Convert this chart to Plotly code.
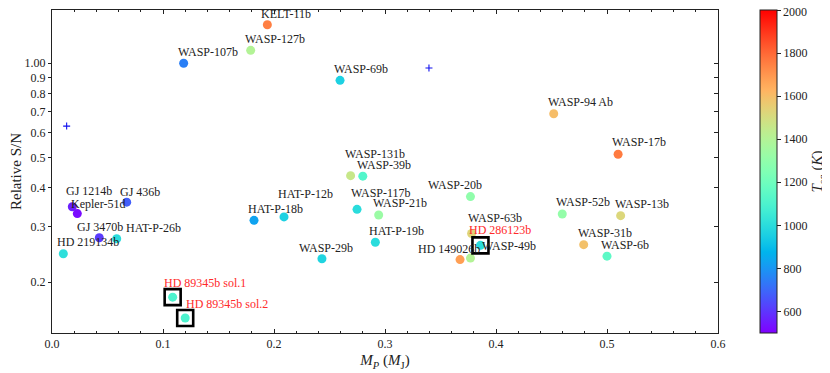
import numpy as np
import plotly.graph_objects as go

# ---------------- data ----------------
names = ["KELT-11b", "WASP-127b", "WASP-107b", "WASP-69b", "WASP-94 Ab", "WASP-17b",
         "WASP-131b", "WASP-39b", "WASP-20b", "WASP-117b", "WASP-21b", "HAT-P-18b",
         "HAT-P-12b", "HAT-P-19b", "WASP-29b", "HD 149026b", "WASP-63b", "WASP-49b",
         "HD 286123b", "HD 89345b sol.1", "HD 89345b sol.2", "GJ 1214b", "Kepler-51d",
         "GJ 436b", "GJ 3470b", "HAT-P-26b", "HD 219134b", "WASP-52b", "WASP-13b",
         "WASP-31b", "WASP-6b"]
mass = [0.194, 0.179, 0.1186, 0.2595, 0.452, 0.510,
        0.269, 0.280, 0.377, 0.2748, 0.2943, 0.182,
        0.209, 0.2913, 0.2432, 0.3676, 0.378, 0.377,
        0.386, 0.1087, 0.120, 0.0183, 0.0228,
        0.0673, 0.0426, 0.0583, 0.0102, 0.4597, 0.5123,
        0.479, 0.500]
snr = [1.328, 1.10, 1.00, 0.882, 0.690, 0.512,
       0.4375, 0.436, 0.375, 0.3415, 0.3275, 0.315,
       0.323, 0.268, 0.2375, 0.236, 0.286, 0.2386,
       0.262, 0.179, 0.1536, 0.348, 0.331,
       0.360, 0.277, 0.275, 0.2464, 0.330, 0.326,
       0.2633, 0.242]
teq = [1750, 1400, 750, 960, 1600, 1760,
       1460, 1120, 1300, 1000, 1330, 830,
       960, 1000, 970, 1680, 1530, 1400,
       1000, 1100, 1100, 560, 520,
       680, 610, 1000, 1010, 1310, 1520,
       1590, 1150]
highlighted = ["HD 286123b", "HD 89345b sol.1", "HD 89345b sol.2"]

plus_mass = [0.0132, 0.3396]
plus_snr = [0.63, 0.966]

xtick_vals = [0.0, 0.1, 0.2, 0.3, 0.4, 0.5, 0.6]
xtick_text = ["0.0", "0.1", "0.2", "0.3", "0.4", "0.5", "0.6"]
ytick_vals = [0.2, 0.3, 0.4, 0.5, 0.6, 0.7, 0.8, 0.9, 1.0]
ytick_text = ["0.2", "0.3", "0.4", "0.5", "0.6", "0.7", "0.8", "0.9", "1.00"]
teq_min, teq_max = 500, 2000
cbar_ticks = [600, 800, 1000, 1200, 1400, 1600, 1800, 2000]

# label offsets in pixels (style only)
label_shift = {
    "KELT-11b": (-7, 11), "WASP-127b": (-7, 11), "WASP-107b": (-7, 11),
    "WASP-69b": (-7, 11), "WASP-94 Ab": (-7, 12), "WASP-17b": (-7, 12),
    "WASP-131b": (-7, 22), "WASP-39b": (-7, 11), "WASP-20b": (-43, 12),
    "WASP-117b": (-7, 16), "WASP-21b": (-7, 12), "HAT-P-18b": (-7, 11),
    "HAT-P-12b": (-7, 23), "HAT-P-19b": (-7, 11), "WASP-29b": (-24, 11),
    "HD 149026b": (-43, 11), "WASP-63b": (-5, 15), "WASP-49b": (11, 12),
    "HD 286123b": (-12, 15), "HD 89345b sol.1": (-10, 14), "HD 89345b sol.2": (0, 14),
    "GJ 1214b": (-7, 16), "Kepler-51d": (-7, 10), "GJ 436b": (-8, 10),
    "GJ 3470b": (-23, 11), "HAT-P-26b": (8, 11), "HD 219134b": (-7, 12),
    "WASP-52b": (-7, 12), "WASP-13b": (-7, 12), "WASP-31b": (-7, 12), "WASP-6b": (-7, 11),
}

# matplotlib 'rainbow' colormap
def rainbow(t):
    r = min(1.0, abs(2 * t - 0.5))
    g = max(0.0, np.sin(np.pi * t))
    b = max(0.0, np.cos(np.pi * t / 2))
    return "rgb(%d,%d,%d)" % (round(r * 255), round(g * 255), round(b * 255))

colorscale = [[t, rainbow(t)] for t in np.linspace(0, 1, 41)]

FONT = "Liberation Serif"

# the page body adds an 8 px offset; figure is sized to fit the window
OFF = 8
L, T, R, B = 52 - OFF, 10 - OFF, 112, 40
W, H = 830 - OFF, 373 - OFF
plot_w = W - L - R
plot_h = H - T - B

fig = go.Figure()

fig.add_trace(go.Scatter(
    x=mass, y=snr, mode="markers", showlegend=False,
    marker=dict(size=9, color=teq, colorscale=colorscale, cmin=teq_min, cmax=teq_max,
                line=dict(width=0),
                colorbar=dict(
                    x=(760 - 52) / plot_w, xanchor="left", xpad=0,
                    y=0.5, yanchor="middle", ypad=0, len=1, lenmode="fraction",
                    thickness=17, outlinewidth=1, outlinecolor="#222",
                    tickmode="array", tickvals=cbar_ticks,
                    ticks="outside", ticklen=4, tickcolor="#222",
                    tickfont=dict(family=FONT, size=12, color="#222"),
                    title=dict(text="<i>T</i><sub>eq</sub> (<i>K</i>)", side="right",
                               font=dict(family=FONT, size=15, color="#222")),
                )),
    xaxis="x", yaxis="y",
))

hx = [m for m, n in zip(mass, names) if n in highlighted]
hy = [s for s, n in zip(snr, names) if n in highlighted]
fig.add_trace(go.Scatter(
    x=hx, y=hy, mode="markers", showlegend=False,
    marker=dict(symbol="square-open", size=16, color="black", line=dict(width=2.6, color="black")),
))

fig.add_trace(go.Scatter(
    x=plus_mass, y=plus_snr, mode="markers", showlegend=False,
    marker=dict(symbol="cross-thin", size=5, line=dict(width=1.1, color="#1010ee")),
))

# dummy trace on mirror axes
fig.add_trace(go.Scatter(x=[None], y=[None], xaxis="x2", yaxis="y2", showlegend=False,
                         hoverinfo="skip"))

for n, m, s in zip(names, mass, snr):
    dx, dy = label_shift[n]
    fig.add_annotation(
        x=m, y=np.log10(s), xref="x", yref="y", text=n, showarrow=False,
        xanchor="left", yanchor="middle", xshift=dx - 1, yshift=dy,
        font=dict(family=FONT, size=12, color="#ff2a2a" if n in highlighted else "#222"),
    )

# top colorbar tick label (plotly drops the label sitting exactly at the bar end)
top_tick = cbar_ticks[-1]
fig.add_annotation(
    x=(784 - 52) / plot_w, xref="paper",
    y=(top_tick - teq_min) / (teq_max - teq_min), yref="paper",
    text=str(top_tick), showarrow=False, xanchor="left", yanchor="middle",
    xshift=-2, yshift=-1.5, borderpad=0,
    font=dict(family=FONT, size=12, color="#222"),
)

yrange = [np.log10(0.1375), np.log10(1.48)]
xrange = [0, 0.6]
axis_common = dict(showline=True, linecolor="#222", linewidth=1, showgrid=False,
                   zeroline=False, tickcolor="#222", automargin=False)

fig.update_layout(
    width=W, height=H,
    margin=dict(l=L, r=R, t=T, b=B, autoexpand=False),
    paper_bgcolor="white", plot_bgcolor="white",
    font=dict(family=FONT, size=12, color="#222"),
    xaxis=dict(range=xrange, tickvals=xtick_vals, ticktext=xtick_text, ticks="inside",
               ticklen=4, minor=dict(dtick=0.02, tick0=0, ticks="inside", ticklen=2, tickcolor="#222"),
               tickfont=dict(family=FONT, size=12, color="#222"),
               title=dict(text="<i>M<sub>P</sub></i> (<i>M</i><sub>J</sub>)", standoff=4,
                          font=dict(family=FONT, size=15, color="#222")),
               **axis_common),
    yaxis=dict(type="log", range=yrange, tickvals=ytick_vals, ticktext=ytick_text,
               ticks="outside", ticklen=3,
               tickfont=dict(family=FONT, size=12, color="#222"),
               title=dict(text="Relative S/N", standoff=6,
                          font=dict(family=FONT, size=15, color="#222")),
               **axis_common),
    xaxis2=dict(range=xrange, overlaying="x", side="top", tickvals=xtick_vals,
                showticklabels=False, ticks="inside", ticklen=4,
                minor=dict(dtick=0.02, tick0=0, ticks="inside", ticklen=2, tickcolor="#222"),
                **axis_common),
    yaxis2=dict(type="log", range=yrange, overlaying="y", side="right", tickvals=ytick_vals,
                showticklabels=False, ticks="inside", ticklen=4, **axis_common),
)

fig.write_html("out.html")
